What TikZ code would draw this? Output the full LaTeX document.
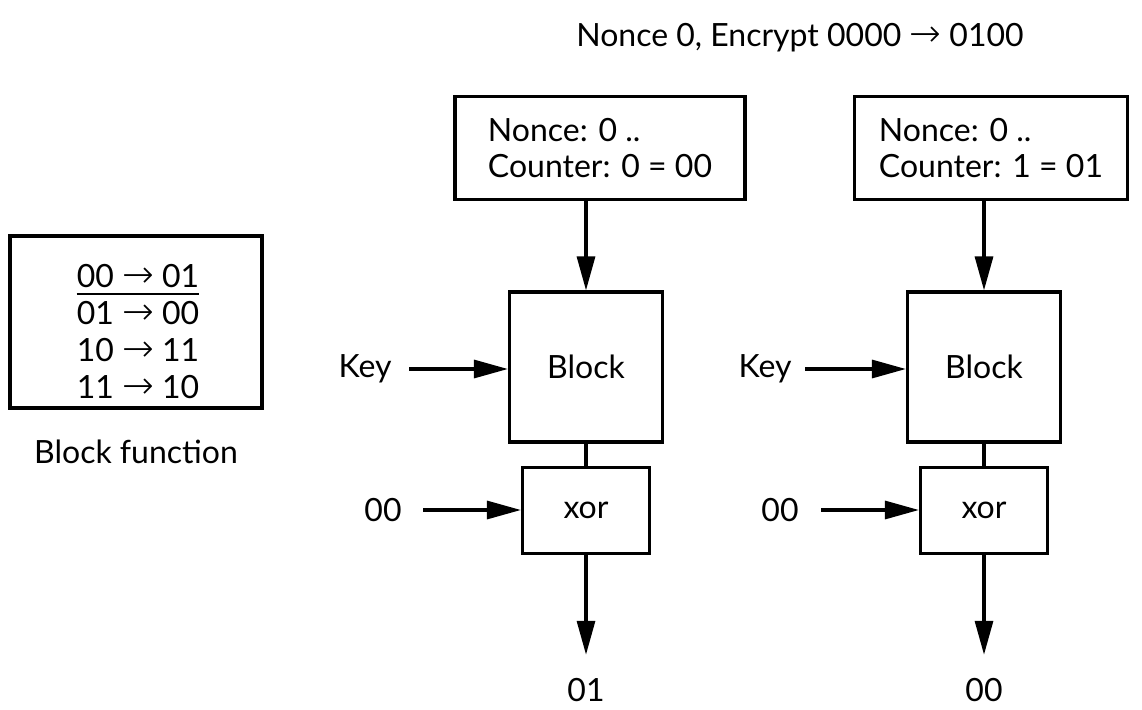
\documentclass[tikz,border=0pt]{standalone}
\usepackage{fontspec}
\setmainfont{Lato}
\newfontfamily\arrowfont{DejaVu Sans ExtraLight}
\usepackage{tikz}
\usetikzlibrary{arrows.meta, positioning}
\newcommand{\diagfont}{\fontsize{32}{36}\selectfont}
\newcommand{\tto}{{\arrowfont\fontsize{38}{36}\selectfont →}}
\tikzstyle{ctrbox}   = [rectangle, minimum height=103pt, align=left,
                        draw=black, line width=3.2pt, font=\diagfont]
\tikzstyle{blockbox} = [rectangle, minimum width=153pt, minimum height=150pt,
                        text centered, draw=black, line width=3.2pt, font=\diagfont]
\tikzstyle{xorbox}   = [rectangle, minimum width=127pt, minimum height=86pt,
                        text centered, draw=black, line width=3.2pt, font=\diagfont]
\tikzstyle{lbl}      = [font=\diagfont]
\tikzstyle{arrow}    = [line width=3.2pt, -{Triangle[length=34pt,width=18pt]}]

\begin{document}
\begin{tikzpicture}[x=1pt, y=1pt, node distance=37pt]
  \useasboundingbox (0,0) rectangle (1142,-709);

  % block function table
  \node (fn)   [rectangle, draw=black, line width=3.2pt, minimum width=252pt, minimum height=172pt] at (136,-322) {};
  \node (row1) [lbl, inner xsep=0pt, inner ysep=6pt] at (138,-276) {00 \tto{} 01};
  \node (row2) [lbl, below of=row1] {01 \tto{} 00};
  \node (row3) [lbl, below of=row2] {10 \tto{} 11};
  \node (row4) [lbl, below of=row3] {11 \tto{} 10};
  \node (fnlabel) [lbl] at (136,-452) {Block function};
  \draw[line width=2.6pt] (row1.south west) -- (row1.south east);

  % counter mode, two blocks
  \node (title) [lbl] at (800,-38) {Nonce 0, Encrypt 0000 \tto{} 0100};
  \node (ctr1)  [ctrbox, minimum width=290pt] at (600,-148) {Nonce: 0 ..\\Counter: 0 = 00};
  \node (ctr2)  [ctrbox, minimum width=273pt] at (991,-148) {Nonce: 0 ..\\Counter: 1 = 01};
  \node (blk1)  [blockbox] at (586,-367) {Block};
  \node (blk2)  [blockbox] at (984,-367) {Block};
  \node (xor1)  [xorbox, below=22pt of blk1] {xor};
  \node (xor2)  [xorbox, below=22pt of blk2] {xor};
  \node (key1)  [lbl] at (365,-369) {Key};
  \node (key2)  [lbl] at (765,-369) {Key};
  \node (in1)   [lbl] at (383,-510) {00};
  \node (in2)   [lbl] at (780,-510) {00};
  \node (out1)  [lbl] at (586,-690) {01};
  \node (out2)  [lbl] at (984,-690) {00};

  \draw[arrow] (blk1.north |- ctr1.south) -- (blk1.north);
  \draw[arrow] (blk2.north |- ctr2.south) -- (blk2.north);
  \draw[arrow, shorten <=14pt] (key1) -- (key1 -| blk1.west);
  \draw[arrow, shorten <=10pt] (key2) -- (key2 -| blk2.west);
  \draw[line width=3.2pt] (blk1) -- (xor1);
  \draw[line width=3.2pt] (blk2) -- (xor2);
  \draw[arrow, shorten <=18pt] (in1) -- (in1 -| xor1.west);
  \draw[arrow, shorten <=19pt] (in2) -- (in2 -| xor2.west);
  \draw[arrow, shorten >=20pt] (xor1) -- (out1);
  \draw[arrow, shorten >=20pt] (xor2) -- (out2);
\end{tikzpicture}
\end{document}
